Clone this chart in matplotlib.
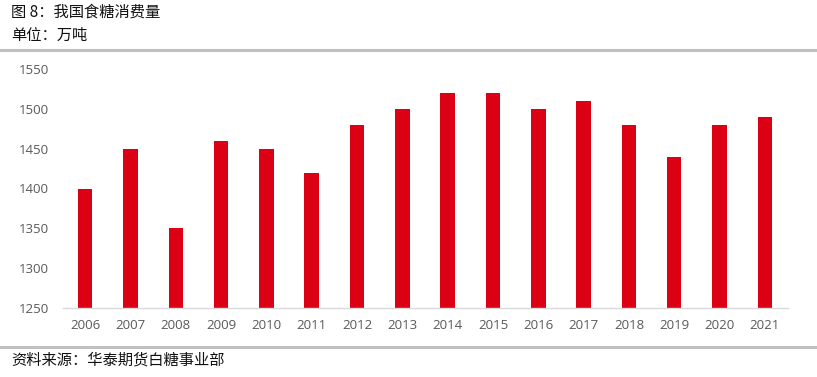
import matplotlib.pyplot as plt
from matplotlib.lines import Line2D

# data
years = ["2006", "2007", "2008", "2009", "2010", "2011", "2012", "2013",
         "2014", "2015", "2016", "2017", "2018", "2019", "2020", "2021"]
consumption = [1400, 1450, 1350, 1460, 1450, 1420, 1480, 1500,
               1520, 1520, 1500, 1510, 1480, 1440, 1480, 1490]
y_ticks = [1250, 1300, 1350, 1400, 1450, 1500, 1550]

title = "图 8：我国食糖消费量"
unit = "单位：万吨"
source = "资料来源：华泰期货白糖事业部"

plt.rcParams['font.family'] = ['Noto Sans CJK SC', 'DejaVu Sans']

W, H = 817, 377
fig = plt.figure(figsize=(W / 100, H / 100), dpi=100)
ax = fig.add_axes([62.5 / W, 69 / H, 725 / W, 239 / H])

x = range(len(years))
ax.bar(x, consumption, width=0.32, color='#DC0014', zorder=2)

ax.set_xlim(-0.5, len(years) - 0.5)
ax.set_ylim(1250, 1550)
ax.set_yticks(y_ticks)
ax.set_xticks(list(x))
ax.set_xticklabels(years)

for s in ['top', 'right', 'left']:
    ax.spines[s].set_visible(False)
ax.spines['bottom'].set_color('#d9d9d9')
ax.spines['bottom'].set_linewidth(1.0)
ax.tick_params(axis='both', length=0, labelsize=9.5, labelcolor='#595959')
ax.tick_params(axis='x', pad=8)
ax.tick_params(axis='y', pad=10)
for lab in ax.get_xticklabels() + ax.get_yticklabels():
    lab.set_family(['Open Sans', 'DejaVu Sans'])

# header / footer texts
fig.text(11 / W, 1 - 12 / H, title, fontsize=11, va='center', ha='left', color='#111111')
fig.text(11 / W, 1 - 35 / H, unit, fontsize=11, va='center', ha='left', color='#111111')
fig.text(11 / W, 1 - 360 / H, source, fontsize=11, va='center', ha='left', color='#111111')

# grey separator bars
fig.add_artist(Line2D([0, 1], [1 - 50 / H, 1 - 50 / H], transform=fig.transFigure,
                      color='#c0c0c0', linewidth=2.2))
fig.add_artist(Line2D([0, 1], [1 - 347 / H, 1 - 347 / H], transform=fig.transFigure,
                      color='#c0c0c0', linewidth=2.2))

fig.savefig('out.png', dpi=100)
